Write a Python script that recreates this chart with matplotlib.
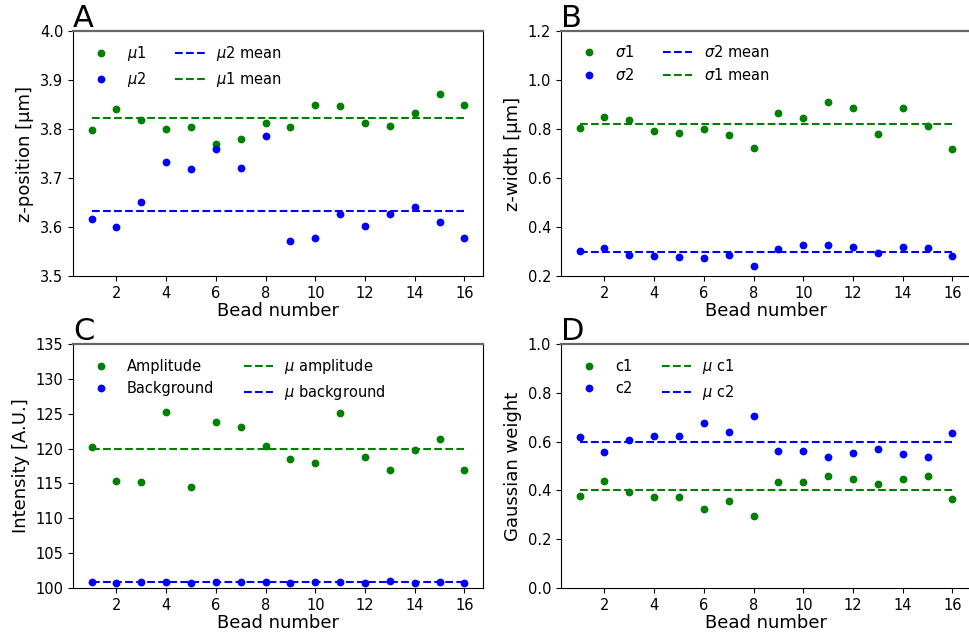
import numpy as np
import matplotlib
matplotlib.use("Agg")
import matplotlib.pyplot as plt

beads = np.arange(1, 17)

# Panel A: z-position
mu1 = [3.798, 3.840, 3.818, 3.800, 3.804, 3.769, 3.780, 3.813,
       3.805, 3.848, 3.846, 3.813, 3.807, 3.833, 3.871, 3.848]
mu2 = [3.617, 3.600, 3.652, 3.732, 3.719, 3.759, 3.720, 3.786,
       3.572, 3.577, 3.626, 3.603, 3.627, 3.641, 3.611, 3.578]
mu1_mean = 3.823
mu2_mean = 3.633

# Panel B: z-width
sigma1 = [0.805, 0.849, 0.835, 0.793, 0.782, 0.800, 0.776, 0.721,
          0.865, 0.845, 0.910, 0.886, 0.780, 0.887, 0.812, 0.720]
sigma2 = [0.302, 0.313, 0.287, 0.283, 0.279, 0.273, 0.287, 0.241,
          0.311, 0.327, 0.325, 0.317, 0.294, 0.320, 0.314, 0.283]
sigma1_mean = 0.820
sigma2_mean = 0.297

# Panel C: intensity
amplitude = [120.27, 115.39, 115.25, 125.20, 114.44, 123.76, 123.14, 120.37,
             118.50, 117.88, 125.06, 118.74, 116.97, 119.79, 121.32, 116.88]
background = [100.81, 100.72, 100.86, 100.86, 100.72, 100.81, 100.91, 100.81,
              100.72, 100.81, 100.86, 100.77, 100.96, 100.77, 100.81, 100.77]
amplitude_mean = 119.94
background_mean = 100.80

# Panel D: Gaussian weight
c1 = [0.378, 0.439, 0.392, 0.373, 0.373, 0.322, 0.358, 0.295,
      0.434, 0.434, 0.460, 0.445, 0.428, 0.448, 0.459, 0.363]
c2 = [0.619, 0.559, 0.605, 0.624, 0.624, 0.675, 0.639, 0.704,
      0.563, 0.563, 0.536, 0.552, 0.570, 0.549, 0.538, 0.634]
c1_mean = 0.400
c2_mean = 0.600

W, H = 969, 642
fig = plt.figure(figsize=(W / 100, H / 100), dpi=100)

axw = 410 / W
positions = {
    "A": [73 / W, (H - 276) / H, axw, 245 / H],
    "B": [561 / W, (H - 276) / H, axw, 245 / H],
    "C": [73 / W, (H - 588) / H, axw, 244 / H],
    "D": [561 / W, (H - 588) / H, axw, 244 / H],
}


def panel(key, g, b, gm, bm, glab, blab, gmlab, bmlab, ylabel, ylim, yticks, ytl, order):
    ax = fig.add_axes(positions[key])
    hg, = ax.plot(beads, g, 'o', color='green', markersize=4.6, label=glab)
    hb, = ax.plot(beads, b, 'o', color='blue', markersize=4.6, label=blab)
    hgm, = ax.plot([beads[0], beads[-1]], [gm, gm], '--', color='green', lw=1.5, label=gmlab)
    hbm, = ax.plot([beads[0], beads[-1]], [bm, bm], '--', color='blue', lw=1.5, label=bmlab)
    hd = {"g": hg, "b": hb, "gm": hgm, "bm": hbm}
    handles = [hd[k] for k in order]
    ax.legend(handles=handles, loc='upper left', ncol=2, frameon=False, fontsize=10.5)
    ax.set_ylim(*ylim)
    ax.set_yticks(yticks)
    ax.set_yticklabels(ytl)
    ax.set_xticks([2, 4, 6, 8, 10, 12, 14, 16])
    ax.set_xlabel("Bead number", fontsize=13, labelpad=1)
    ax.set_ylabel(ylabel, fontsize=13)
    ax.tick_params(labelsize=10.5)
    ax.spines['top'].set_color('#666666')
    ax.spines['top'].set_linewidth(1.6)
    ax.text(0, 1.016, key, transform=ax.transAxes, fontsize=22,
            ha='left', va='baseline')
    return ax


panel("A", mu1, mu2, mu1_mean, mu2_mean, r"$\mu1$", r"$\mu2$",
      r"$\mu1$ mean", r"$\mu2$ mean", "z-position [μm]",
      (3.5, 4.0), [3.5, 3.6, 3.7, 3.8, 3.9, 4.0],
      ["3.5", "3.6", "3.7", "3.8", "3.9", "4.0"], ["g", "b", "bm", "gm"])

panel("B", sigma1, sigma2, sigma1_mean, sigma2_mean, r"$\sigma1$", r"$\sigma2$",
      r"$\sigma1$ mean", r"$\sigma2$ mean", "z-width [μm]",
      (0.2, 1.2), [0.2, 0.4, 0.6, 0.8, 1.0, 1.2],
      ["0.2", "0.4", "0.6", "0.8", "1.0", "1.2"], ["g", "b", "bm", "gm"])

panel("C", amplitude, background, amplitude_mean, background_mean,
      "Amplitude", "Background", r"$\mu$ amplitude", r"$\mu$ background",
      "Intensity [A.U.]", (100, 135), [100, 105, 110, 115, 120, 125, 130, 135],
      ["100", "105", "110", "115", "120", "125", "130", "135"], ["g", "b", "gm", "bm"])

panel("D", c1, c2, c1_mean, c2_mean, "c1", "c2", r"$\mu$ c1", r"$\mu$ c2",
      "Gaussian weight", (0.0, 1.0), [0.0, 0.2, 0.4, 0.6, 0.8, 1.0],
      ["0.0", "0.2", "0.4", "0.6", "0.8", "1.0"], ["g", "b", "gm", "bm"])

fig.savefig("out.png", dpi=100)
